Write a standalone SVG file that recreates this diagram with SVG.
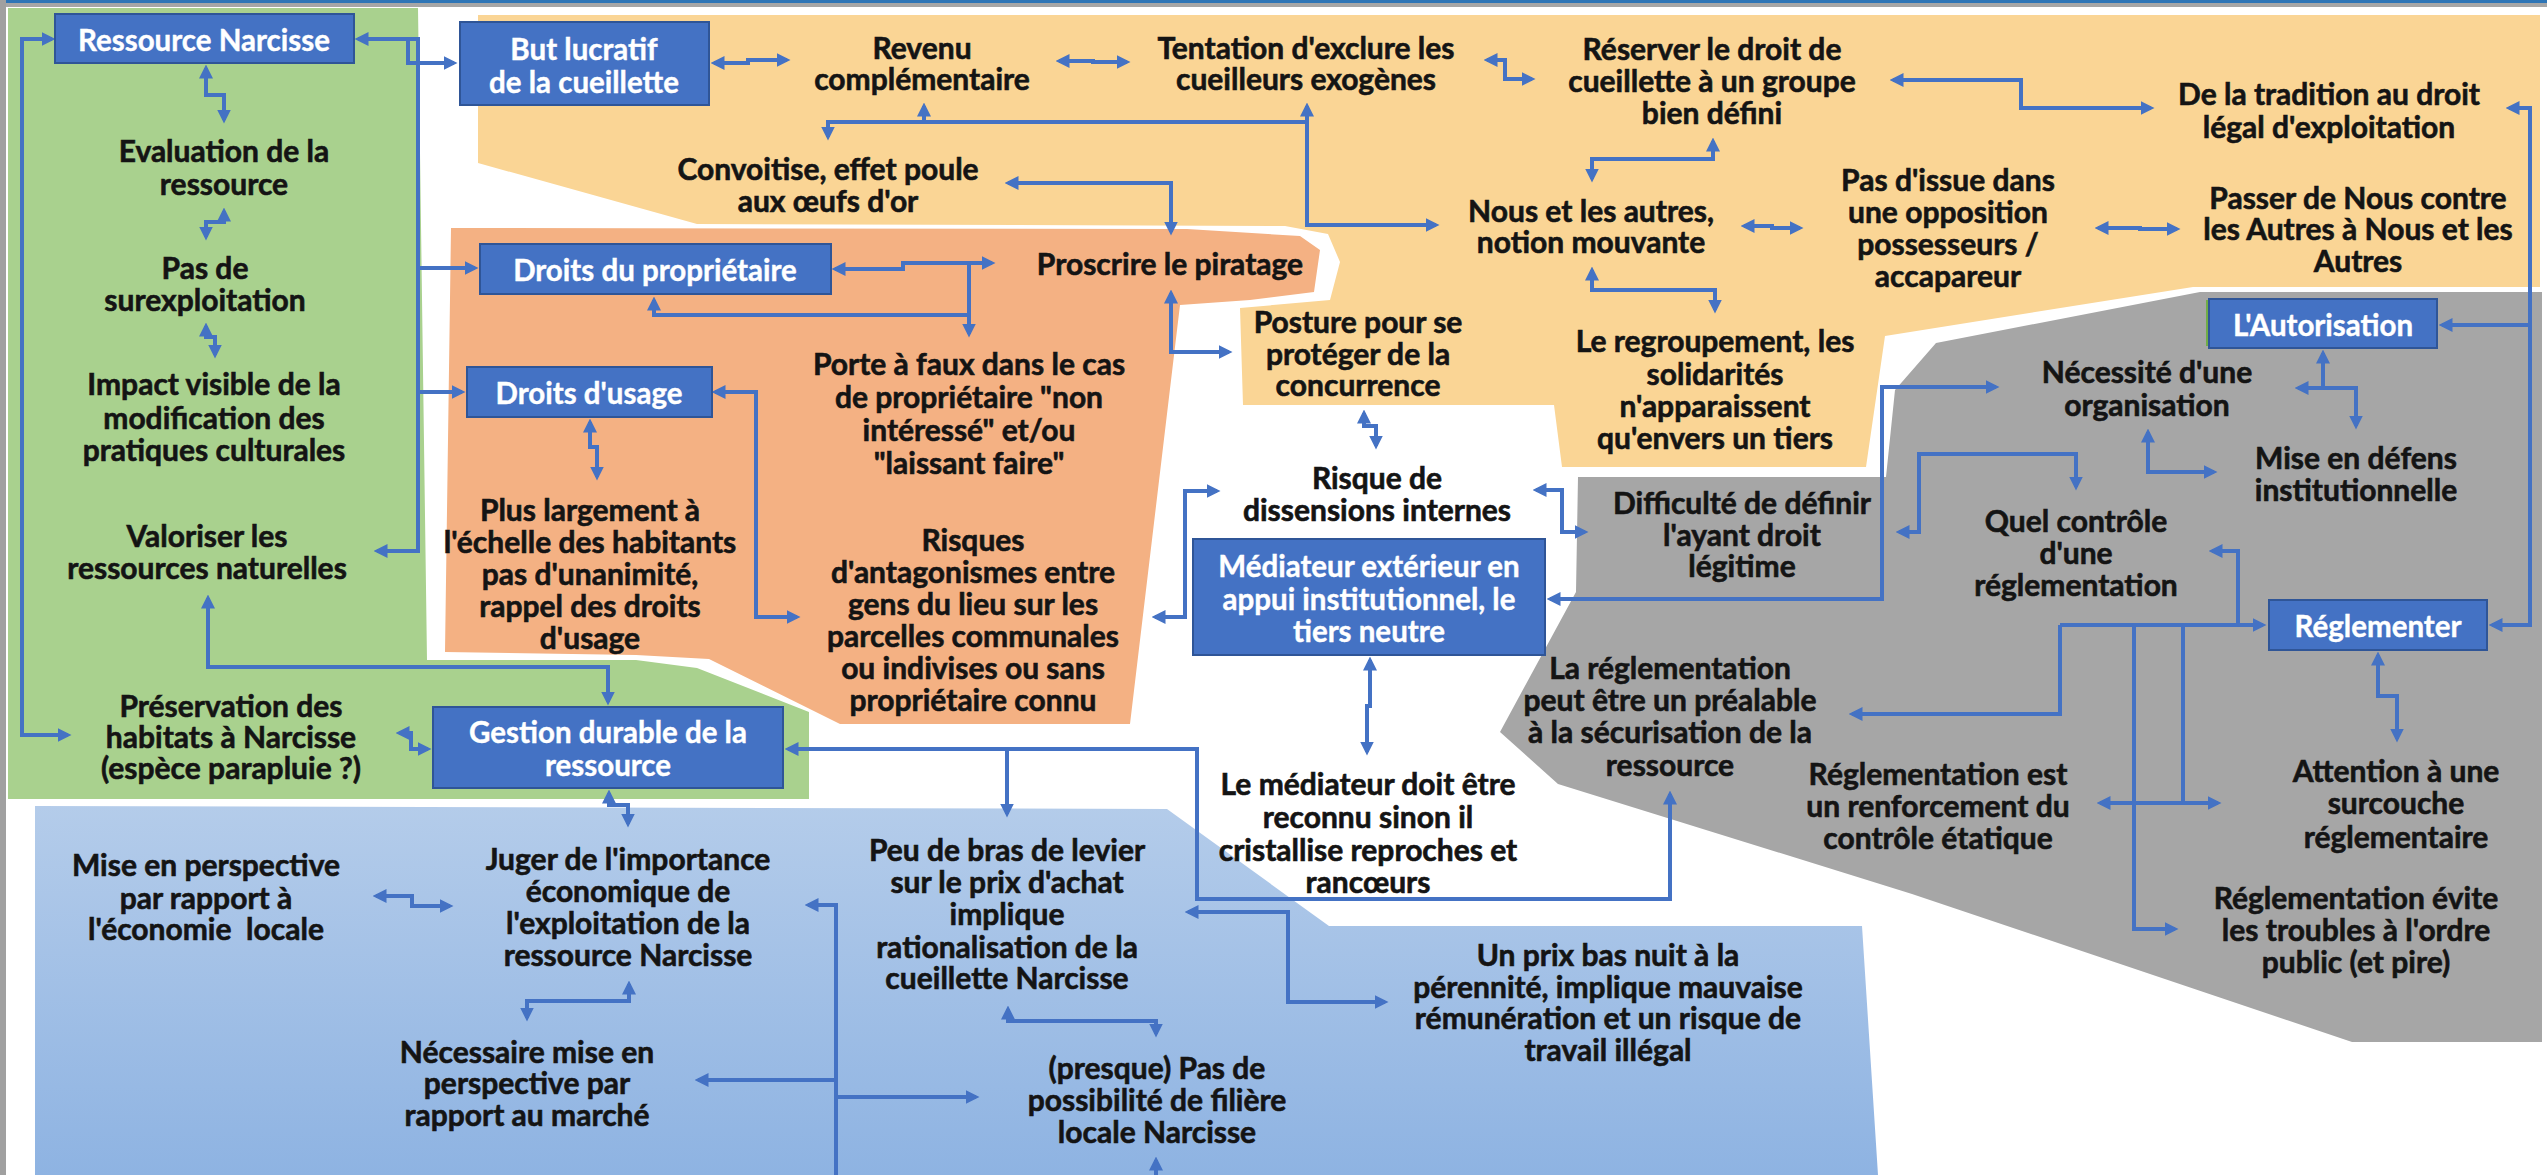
<svg xmlns="http://www.w3.org/2000/svg" width="2547" height="1175" viewBox="0 0 2547 1175">
<defs>
<style>
.t{font-family:Lato,"Liberation Sans",sans-serif;font-weight:700;font-size:30px;fill:#141414;stroke:#141414;stroke-width:0.6;text-anchor:middle;dominant-baseline:central}
.w{font-family:Lato,"Liberation Sans",sans-serif;font-weight:700;font-size:29.5px;fill:#ffffff;stroke:#ffffff;stroke-width:0.4;text-anchor:middle;dominant-baseline:central}
.box{fill:#4472C4;stroke:#2F5597;stroke-width:2}
.c{fill:none;stroke:#4472C4;stroke-width:4;stroke-linejoin:miter}
.s{marker-start:url(#ah)}
.e{marker-end:url(#ah)}
</style>
<marker id="ah" viewBox="0 0 12 12" refX="9" refY="6" markerWidth="14" markerHeight="14" markerUnits="userSpaceOnUse" orient="auto-start-reverse">
<path d="M0,0 L12,6 L0,12 z" fill="#4472C4"/>
</marker>
<linearGradient id="bg" x1="0" y1="0" x2="0" y2="1">
<stop offset="0" stop-color="#B4CCEA"/>
<stop offset="1" stop-color="#8EB3E2"/>
</linearGradient>
</defs>
<rect x="0" y="0" width="2547" height="1175" fill="#ffffff"/>
<g id="frame">
<rect x="0" y="0" width="2547" height="3" fill="#2E75B6"/>
<rect x="0" y="3" width="2547" height="4" fill="#A6A6A6"/>
<rect x="0" y="0" width="6" height="1175" fill="#A0A0A0"/>
</g>
<g id="regions">
<polygon id="region-green" points="8,8 418,8 427,660 636,660 697,668 809,712 809,799 8,799" fill="#A9D18E"/>
<polygon id="region-yellow" points="478,15 2540,15 2540,287 2193,287 1885,336 1866,467 1562,467 1554,405 1243,405 1240,308 1330,300 1340,262 1328,234 1285,226 697,224 478,163" fill="#FAD595"/>
<polygon id="region-salmon" points="451,228 1187,229 1300,236 1320,250 1314,292 1250,300 1180,305 1130,724 840,724 709,659 636,655 445,652" fill="#F4B183"/>
<polygon id="region-gray" points="1936,343 2200,292 2542,292 2542,1042 2352,1042 1912,894 1558,784 1500,732 1576,592 1578,477 1886,477 1895,390" fill="#A6A6A6"/>
<polygon id="region-blue" points="35,806 1167,809 1329,926 1862,926 1878,1175 35,1175" fill="url(#bg)"/>
</g>
<g id="connectors">
<path class="c s e" d="M206,68 V95 H224 V120"/>
<path class="c s e" d="M224,211 V222 H206 V237"/>
<path class="c s e" d="M206,326 V337 H215 V355"/>
<path class="c s e" d="M52,39 H22 V735 H68"/>
<path class="c s e" d="M358,39 H418 V551 H377"/>
<path class="c e" d="M408,39 V63 H454"/>
<path class="c e" d="M418,268 H475"/>
<path class="c e" d="M418,392 H462"/>
<path class="c s e" d="M208,598 V667 H608 V702"/>
<path class="c s e" d="M399,733 H411 V749 H428"/>
<path class="c s e" d="M714,63 H748 V60 H787"/>
<path class="c s e" d="M1059,61 H1093 V62 H1127"/>
<path class="c s e" d="M1307,106 V225 H1436"/>
<path class="c s" d="M828,137 V122 H1307"/>
<path class="c e" d="M924,122 V106"/>
<path class="c s e" d="M1008,183 H1171 V232"/>
<path class="c s e" d="M835,269 H903 V263 H992"/>
<path class="c e" d="M969,263 V334"/>
<path class="c s" d="M654,300 V315 H969"/>
<path class="c s e" d="M1171,293 V352 H1229"/>
<path class="c s e" d="M715,392 H756 V617 H797"/>
<path class="c s e" d="M590,422 V447 H597 V477"/>
<path class="c s e" d="M1155,617 H1185 V491 H1217"/>
<path class="c s e" d="M788,749 H1197 V899 H1670 V794"/>
<path class="c e" d="M1007,749 V814"/>
<path class="c s e" d="M1188,912 H1288 V1002 H1385"/>
<path class="c s" d="M808,905 H836 V1175"/>
<path class="c e" d="M836,1080 H698"/>
<path class="c e" d="M836,1097 H976"/>
<path class="c e" d="M1156,1175 V1160"/>
<path class="c s e" d="M1008,1009 V1021 H1156 V1034"/>
<path class="c s e" d="M376,896 H412 V906 H450"/>
<path class="c s e" d="M609,793 V805 H628 V824"/>
<path class="c s e" d="M629,984 V1001 H527 V1018"/>
<path class="c s e" d="M1487,60 H1505 V79 H1532"/>
<path class="c s e" d="M1713,141 V159 H1592 V179"/>
<path class="c s e" d="M1744,226 H1772 V228 H1800"/>
<path class="c s e" d="M1592,270 V290 H1715 V310"/>
<path class="c s e" d="M1893,80 H2021 V108 H2151"/>
<path class="c s e" d="M2098,228 H2140 V229 H2177"/>
<path class="c s e" d="M2509,108 H2530 V625 H2492"/>
<path class="c e" d="M2530,325 H2442"/>
<path class="c s" d="M2323,353 V388"/>
<path class="c s e" d="M2298,388 H2356 V426"/>
<path class="c s e" d="M2148,432 V472 H2214"/>
<path class="c s e" d="M1550,599 H1882 V387 H1996"/>
<path class="c s e" d="M1536,490 H1562 V532 H1585"/>
<path class="c s e" d="M1364,413 V426 H1376 V446"/>
<path class="c s e" d="M1370,660 V706 H1367 V752"/>
<path class="c s e" d="M1899,532 H1919 V454 H2076 V487"/>
<path class="c s" d="M2212,551 H2238 V625"/>
<path class="c e" d="M2060,625 H2263"/>
<path class="c e" d="M2060,625 V714 H1852"/>
<path class="c e" d="M2134,625 V929 H2175"/>
<path class="c" d="M2183,625 V803"/>
<path class="c s e" d="M2100,803 H2218"/>
<path class="c s e" d="M2378,655 V696 H2397 V739"/>
</g>
<g id="nodes">
<g id="n-ressource"><rect class="box" x="55" y="14" width="299" height="49"/><text class="w" x="204" y="39">Ressource Narcisse</text></g>
<g id="n-but"><rect class="box" x="460" y="22" width="249" height="83"/><text class="w"><tspan x="584" y="48">But lucratif</tspan><tspan x="584" y="81">de la cueillette</tspan></text></g>
<g id="n-droitsprop"><rect class="box" x="480" y="244" width="351" height="50"/><text class="w" x="655" y="269">Droits du propriétaire</text></g>
<g id="n-droitsusage"><rect class="box" x="467" y="367" width="245" height="50"/><text class="w" x="589" y="392">Droits d'usage</text></g>
<g id="n-gestion"><rect class="box" x="433" y="707" width="350" height="81"/><text class="w"><tspan x="608" y="731">Gestion durable de la</tspan><tspan x="608" y="764">ressource</tspan></text></g>
<g id="n-mediateur"><rect class="box" x="1193" y="539" width="352" height="116"/><text class="w"><tspan x="1369" y="565">Médiateur extérieur en</tspan><tspan x="1369" y="598">appui institutionnel, le</tspan><tspan x="1369" y="630">tiers neutre</tspan></text></g>
<g id="n-autorisation"><rect x="2206" y="300" width="4" height="46" fill="#70AD47"/><rect class="box" x="2209" y="299" width="228" height="49"/><text class="w" x="2323" y="324">L'Autorisation</text></g>
<g id="n-reglementer"><rect class="box" x="2269" y="600" width="218" height="50"/><text class="w" x="2378" y="625">Réglementer</text></g>

<g id="n-evaluation"><text class="t"><tspan x="224" y="150">Evaluation de la</tspan><tspan x="224" y="183">ressource</tspan></text></g>
<g id="n-surexploitation"><text class="t"><tspan x="205" y="267">Pas de</tspan><tspan x="205" y="299">surexploitation</tspan></text></g>
<g id="n-impact"><text class="t"><tspan x="214" y="383">Impact visible de la</tspan><tspan x="214" y="417">modification des</tspan><tspan x="214" y="449">pratiques culturales</tspan></text></g>
<g id="n-valoriser"><text class="t"><tspan x="207" y="535">Valoriser les</tspan><tspan x="207" y="567">ressources naturelles</tspan></text></g>
<g id="n-preservation"><text class="t"><tspan x="231" y="705">Préservation des</tspan><tspan x="231" y="736">habitats à Narcisse</tspan><tspan x="231" y="767">(espèce parapluie ?)</tspan></text></g>

<g id="n-revenu"><text class="t"><tspan x="922" y="47">Revenu</tspan><tspan x="922" y="78">complémentaire</tspan></text></g>
<g id="n-tentation"><text class="t"><tspan x="1306" y="47">Tentation d'exclure les</tspan><tspan x="1306" y="78">cueilleurs exogènes</tspan></text></g>
<g id="n-reserver"><text class="t"><tspan x="1712" y="48">Réserver le droit de</tspan><tspan x="1712" y="80">cueillette à un groupe</tspan><tspan x="1712" y="112">bien défini</tspan></text></g>
<g id="n-tradition"><text class="t"><tspan x="2329" y="93">De la tradition au droit</tspan><tspan x="2329" y="126">légal d'exploitation</tspan></text></g>
<g id="n-convoitise"><text class="t"><tspan x="828" y="168">Convoitise, effet poule</tspan><tspan x="828" y="200">aux œufs d'or</tspan></text></g>
<g id="n-nous"><text class="t"><tspan x="1591" y="210">Nous et les autres,</tspan><tspan x="1591" y="241">notion mouvante</tspan></text></g>
<g id="n-pasissue"><text class="t"><tspan x="1948" y="179">Pas d'issue dans</tspan><tspan x="1948" y="211">une opposition</tspan><tspan x="1948" y="243">possesseurs /</tspan><tspan x="1948" y="275">accapareur</tspan></text></g>
<g id="n-passer"><text class="t"><tspan x="2358" y="197">Passer de Nous contre</tspan><tspan x="2358" y="228">les Autres à Nous et les</tspan><tspan x="2358" y="260">Autres</tspan></text></g>
<g id="n-regroupement"><text class="t"><tspan x="1715" y="340">Le regroupement, les</tspan><tspan x="1715" y="373">solidarités</tspan><tspan x="1715" y="405">n'apparaissent</tspan><tspan x="1715" y="437">qu'envers un tiers</tspan></text></g>
<g id="n-posture"><text class="t"><tspan x="1358" y="321">Posture pour se</tspan><tspan x="1358" y="353">protéger de la</tspan><tspan x="1358" y="384">concurrence</tspan></text></g>

<g id="n-proscrire"><text class="t" x="1170" y="263">Proscrire le piratage</text></g>
<g id="n-porte"><text class="t"><tspan x="969" y="363">Porte à faux dans le cas</tspan><tspan x="969" y="396">de propriétaire "non</tspan><tspan x="969" y="429">intéressé" et/ou</tspan><tspan x="969" y="462">"laissant faire"</tspan></text></g>
<g id="n-risques"><text class="t"><tspan x="973" y="539">Risques</tspan><tspan x="973" y="571">d'antagonismes entre</tspan><tspan x="973" y="603">gens du lieu sur les</tspan><tspan x="973" y="635">parcelles communales</tspan><tspan x="973" y="667">ou indivises ou sans</tspan><tspan x="973" y="699">propriétaire connu</tspan></text></g>
<g id="n-plus"><text class="t"><tspan x="590" y="509">Plus largement à</tspan><tspan x="590" y="541">l'échelle des habitants</tspan><tspan x="590" y="573">pas d'unanimité,</tspan><tspan x="590" y="605">rappel des droits</tspan><tspan x="590" y="637">d'usage</tspan></text></g>

<g id="n-dissensions"><text class="t"><tspan x="1377" y="477">Risque de</tspan><tspan x="1377" y="509">dissensions internes</tspan></text></g>
<g id="n-lemediateur"><text class="t"><tspan x="1368" y="783">Le médiateur doit être</tspan><tspan x="1368" y="816">reconnu sinon il</tspan><tspan x="1368" y="849">cristallise reproches et</tspan><tspan x="1368" y="881">rancœurs</tspan></text></g>

<g id="n-difficulte"><text class="t"><tspan x="1742" y="502">Difficulté de définir</tspan><tspan x="1742" y="534">l'ayant droit</tspan><tspan x="1742" y="565">légitime</tspan></text></g>
<g id="n-necessite"><text class="t"><tspan x="2147" y="371">Nécessité d'une</tspan><tspan x="2147" y="404">organisation</tspan></text></g>
<g id="n-misedefens"><text class="t"><tspan x="2356" y="457">Mise en défens</tspan><tspan x="2356" y="489">institutionnelle</tspan></text></g>
<g id="n-quel"><text class="t"><tspan x="2076" y="520">Quel contrôle</tspan><tspan x="2076" y="552">d'une</tspan><tspan x="2076" y="584">réglementation</tspan></text></g>
<g id="n-prealable"><text class="t"><tspan x="1670" y="667">La réglementation</tspan><tspan x="1670" y="699">peut être un préalable</tspan><tspan x="1670" y="731">à la sécurisation de la</tspan><tspan x="1670" y="764">ressource</tspan></text></g>
<g id="n-renforcement"><text class="t"><tspan x="1938" y="773">Réglementation est</tspan><tspan x="1938" y="805">un renforcement du</tspan><tspan x="1938" y="837">contrôle étatique</tspan></text></g>
<g id="n-attention"><text class="t"><tspan x="2396" y="770">Attention à une</tspan><tspan x="2396" y="802">surcouche</tspan><tspan x="2396" y="836">réglementaire</tspan></text></g>
<g id="n-evite"><text class="t"><tspan x="2356" y="897">Réglementation évite</tspan><tspan x="2356" y="929">les troubles à l'ordre</tspan><tspan x="2356" y="961">public (et pire)</tspan></text></g>

<g id="n-miseperspective"><text class="t"><tspan x="206" y="864">Mise en perspective</tspan><tspan x="206" y="897">par rapport à</tspan><tspan x="206" y="928" xml:space="preserve">l'économie  locale</tspan></text></g>
<g id="n-juger"><text class="t"><tspan x="628" y="858">Juger de l'importance</tspan><tspan x="628" y="890">économique de</tspan><tspan x="628" y="922">l'exploitation de la</tspan><tspan x="628" y="954">ressource Narcisse</tspan></text></g>
<g id="n-necessaire"><text class="t"><tspan x="527" y="1051">Nécessaire mise en</tspan><tspan x="527" y="1082">perspective par</tspan><tspan x="527" y="1114">rapport au marché</tspan></text></g>
<g id="n-peu"><text class="t"><tspan x="1007" y="849">Peu de bras de levier</tspan><tspan x="1007" y="881">sur le prix d'achat</tspan><tspan x="1007" y="913">implique</tspan><tspan x="1007" y="946">rationalisation de la</tspan><tspan x="1007" y="977">cueillette Narcisse</tspan></text></g>
<g id="n-presque"><text class="t"><tspan x="1157" y="1067">(presque) Pas de</tspan><tspan x="1157" y="1099">possibilité de filière</tspan><tspan x="1157" y="1131">locale Narcisse</tspan></text></g>
<g id="n-prixbas"><text class="t"><tspan x="1608" y="954">Un prix bas nuit à la</tspan><tspan x="1608" y="986">pérennité, implique mauvaise</tspan><tspan x="1608" y="1017">rémunération et un risque de</tspan><tspan x="1608" y="1049">travail illégal</tspan></text></g>
</g>
</svg>
